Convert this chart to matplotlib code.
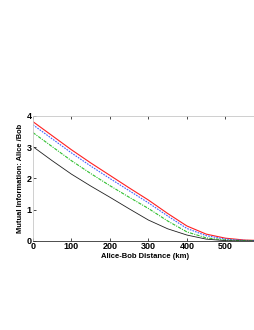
import matplotlib
matplotlib.use("Agg")
import matplotlib.pyplot as plt

distance_km = [0, 50, 100, 150, 200, 250, 300, 350, 400, 450, 500, 550, 580]
red_mi   = [3.82, 3.37, 2.92, 2.50, 2.10, 1.70, 1.31, 0.88, 0.48, 0.22, 0.09, 0.03, 0.02]
blue_mi  = [3.72, 3.27, 2.82, 2.40, 2.00, 1.61, 1.22, 0.80, 0.40, 0.17, 0.06, 0.02, 0.01]
green_mi = [3.47, 3.02, 2.57, 2.16, 1.77, 1.40, 1.04, 0.64, 0.29, 0.10, 0.03, 0.01, 0.0]
black_mi = [3.02, 2.57, 2.14, 1.76, 1.40, 1.03, 0.67, 0.39, 0.19, 0.06, 0.01, 0.0, 0.0]

xticks = [0, 100, 200, 300, 400, 500]
yticks = [0, 1, 2, 3, 4]

plt.rcParams['font.family'] = ['Liberation Sans', 'DejaVu Sans']
fig = plt.figure(figsize=(2.55, 3.3), dpi=100)
ax = fig.add_axes([0.129, 0.2697, 0.876, 0.3788])

ax.plot(distance_km, red_mi, color='#ff2020', lw=0.8, ls='-')
ax.plot(distance_km, blue_mi, color='#4060ff', lw=0.8, ls=(0, (1.5, 1)))
ax.plot(distance_km, green_mi, color='#30c030', lw=0.8, ls=(0, (3, 1, 1, 1)))
ax.plot(distance_km, black_mi, color='#202020', lw=0.6, ls='-')

ax.set_xlim(0, 580)
ax.set_ylim(0, 4)
ax.set_xticks(xticks)
ax.set_yticks(yticks)
ax.tick_params(direction='in', length=2, width=0.5, labelsize=6.5, pad=1,
               top=True, right=False)
for lab in ax.get_xticklabels() + ax.get_yticklabels():
    lab.set_fontweight('bold')
for s in ['top', 'right', 'left']:
    ax.spines[s].set_color('#c8c8c8')
    ax.spines[s].set_linewidth(0.6)
ax.spines['bottom'].set_color('#303030')
ax.spines['bottom'].set_linewidth(0.6)
ax.set_xlabel('Alice-Bob Distance (km)', fontsize=5.5, fontweight='bold', labelpad=1)
ax.set_ylabel('Mutual Information: Alice /Bob', fontsize=5.4, fontweight='bold', labelpad=2)

fig.savefig('out.png', dpi=100)
